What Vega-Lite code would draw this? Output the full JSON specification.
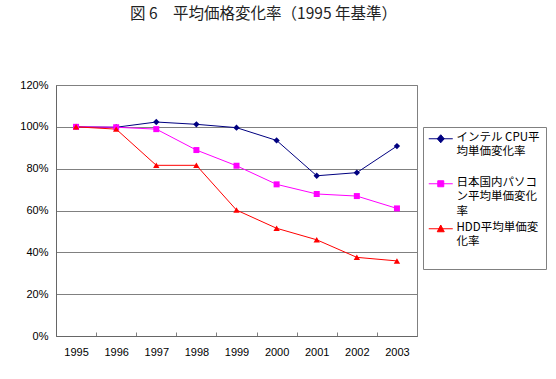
{
  "$schema": "https://vega.github.io/schema/vega-lite/v6.json",
  "width": 361,
  "height": 251,
  "autosize": {"type": "none"},
  "padding": {"left": 56, "top": 85, "right": 139, "bottom": 43},
  "background": "white",
  "title": {
    "text": "図 6　平均価格変化率（1995 年基準）",
    "font": "Noto Sans CJK JP",
    "fontSize": 15.5,
    "fontWeight": "normal",
    "color": "#222222",
    "anchor": "start",
    "frame": "group",
    "dx": 74,
    "offset": 57
  },
  "config": {
    "view": {"stroke": "#808080", "strokeWidth": 1},
    "axis": {"labelFont": "Liberation Sans", "labelFontSize": 11, "labelColor": "#000000", "domainColor": "#666666", "tickColor": "#808080"}
  },
  "data": {
    "values": [
      {"year": "1995", "series": "intel", "value": 1.0},
      {"year": "1996", "series": "intel", "value": 0.998},
      {"year": "1997", "series": "intel", "value": 1.023},
      {"year": "1998", "series": "intel", "value": 1.012},
      {"year": "1999", "series": "intel", "value": 0.996},
      {"year": "2000", "series": "intel", "value": 0.935},
      {"year": "2001", "series": "intel", "value": 0.766},
      {"year": "2002", "series": "intel", "value": 0.781},
      {"year": "2003", "series": "intel", "value": 0.908},
      {"year": "1995", "series": "pc", "value": 1.0},
      {"year": "1996", "series": "pc", "value": 0.998},
      {"year": "1997", "series": "pc", "value": 0.989},
      {"year": "1998", "series": "pc", "value": 0.889},
      {"year": "1999", "series": "pc", "value": 0.814},
      {"year": "2000", "series": "pc", "value": 0.725},
      {"year": "2001", "series": "pc", "value": 0.679},
      {"year": "2002", "series": "pc", "value": 0.669},
      {"year": "2003", "series": "pc", "value": 0.61},
      {"year": "1995", "series": "hdd", "value": 1.0},
      {"year": "1996", "series": "hdd", "value": 0.989},
      {"year": "1997", "series": "hdd", "value": 0.816},
      {"year": "1998", "series": "hdd", "value": 0.816},
      {"year": "1999", "series": "hdd", "value": 0.602},
      {"year": "2000", "series": "hdd", "value": 0.515},
      {"year": "2001", "series": "hdd", "value": 0.46},
      {"year": "2002", "series": "hdd", "value": 0.376},
      {"year": "2003", "series": "hdd", "value": 0.359}
    ]
  },
  "encoding": {
    "x": {
      "field": "year",
      "type": "ordinal",
      "scale": {"type": "band", "paddingInner": 0, "paddingOuter": 0},
      "axis": {"title": null, "labelAngle": 0, "tickBand": "extent", "tickSize": -4, "labelPadding": 14, "grid": false}
    },
    "y": {
      "field": "value",
      "type": "quantitative",
      "scale": {"domain": [0, 1.2], "nice": false},
      "axis": {"title": null, "values": [0, 0.2, 0.4, 0.6, 0.8, 1.0, 1.2], "format": ".0%", "ticks": false, "tickSize": 0, "labelPadding": 8, "gridColor": "#808080", "gridOpacity": 1}
    },
    "color": {
      "field": "series",
      "type": "nominal",
      "scale": {"domain": ["intel", "pc", "hdd"], "range": ["#000080", "#FF00FF", "#FF0000"]},
      "legend": {
        "orient": "none",
        "legendX": 367,
        "legendY": 42,
        "title": null,
        "strokeColor": "#808080",
        "padding": 6,
        "gridAlign": "all",
        "labelFont": "Noto Sans CJK JP",
        "labelFontSize": 11.5,
        "labelColor": "#000000",
        "labelLimit": 200,
        "labelOffset": 16,
        "labelBaseline": "top",
        "symbolType": "M-1.2,0H3.6",
        "symbolSize": 100,
        "symbolStrokeWidth": 1,
        "rowPadding": 3,
        "labelExpr": "datum.value == 'intel' ? ['インテル CPU平', '均単価変化率'] : datum.value == 'pc' ? ['日本国内パソコ', 'ン平均単価変化', '率'] : ['HDD平均単価変', '化率', '']",
        "encode": {
          "labels": {"update": {"lineHeight": {"value": 14.5}, "dy": {"value": -7}}},
          "symbols": {
            "update": {
              "shape": {"signal": "datum.value == 'intel' ? 'M-1.2,0H3.6M0.5,0L1.2,-0.8L1.9,0L1.2,0.8Z' : datum.value == 'pc' ? 'M-1.2,0H3.6M0.6,-0.6H1.8V0.6H0.6Z' : 'M-1.2,0H3.6M0.5,0.6L1.2,-0.75L1.9,0.6Z'"},
              "fill": {"scale": "color", "field": "value"},
              "stroke": {"scale": "color", "field": "value"},
              "opacity": {"value": 1}
            }
          }
        }
      }
    }
  },
  "layer": [
    {"mark": {"type": "line", "strokeWidth": 1}},
    {
      "transform": [{"filter": "datum.series == 'intel'"}],
      "mark": {"type": "point", "filled": true, "opacity": 1, "size": 40, "shape": "diamond"}
    },
    {
      "transform": [{"filter": "datum.series == 'pc'"}],
      "mark": {"type": "point", "filled": true, "opacity": 1, "size": 36, "shape": "square"}
    },
    {
      "transform": [{"filter": "datum.series == 'hdd'"}],
      "mark": {"type": "point", "filled": true, "opacity": 1, "size": 40, "shape": "triangle-up"}
    }
  ]
}
